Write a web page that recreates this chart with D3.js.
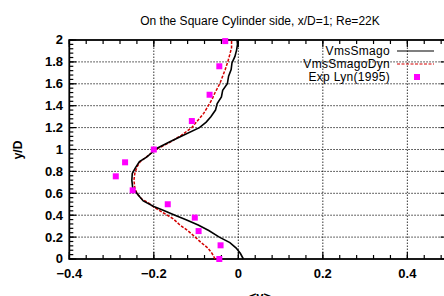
<!DOCTYPE html>
<html>
<head>
<meta charset="utf-8">
<script src="https://cdn.jsdelivr.net/npm/d3@7"></script>
<style>
  body { margin: 0; background: #fff; }
  svg { display: block; font-family: "Liberation Sans", Arial, sans-serif; }
</style>
</head>
<body>
<div id="chart"></div>
<script>
// data: [v, y/D]
const smago = [
  [0.012, 0.0], [0.005, 0.05], [-0.005, 0.1], [-0.02, 0.15], [-0.045, 0.2],
  [-0.07, 0.26], [-0.095, 0.31], [-0.125, 0.36], [-0.15, 0.40], [-0.175, 0.44],
  [-0.2, 0.48], [-0.225, 0.53], [-0.237, 0.585], [-0.25, 0.65], [-0.252, 0.72],
  [-0.251, 0.78], [-0.244, 0.83], [-0.234, 0.89], [-0.217, 0.93], [-0.205, 0.97],
  [-0.198, 1.0], [-0.162, 1.07], [-0.13, 1.13], [-0.092, 1.2], [-0.076, 1.25],
  [-0.065, 1.3], [-0.054, 1.36], [-0.05, 1.42], [-0.04, 1.48], [-0.037, 1.54],
  [-0.026, 1.6], [-0.023, 1.67], [-0.017, 1.73], [-0.015, 1.79], [-0.008, 1.85],
  [-0.004, 1.91], [-0.002, 1.96], [-0.003, 2.0]
];
const smagoDyn = [
  [-0.055, 0.0], [-0.062, 0.05], [-0.072, 0.1], [-0.088, 0.15], [-0.102, 0.2],
  [-0.12, 0.26], [-0.138, 0.31], [-0.155, 0.37], [-0.177, 0.42], [-0.198, 0.47],
  [-0.212, 0.51], [-0.229, 0.55], [-0.24, 0.6], [-0.245, 0.65], [-0.247, 0.72],
  [-0.245, 0.78], [-0.24, 0.84], [-0.232, 0.89], [-0.218, 0.93], [-0.205, 0.97],
  [-0.195, 1.0], [-0.16, 1.07], [-0.135, 1.13], [-0.11, 1.2], [-0.095, 1.27],
  [-0.082, 1.33], [-0.071, 1.4], [-0.062, 1.46], [-0.055, 1.52], [-0.044, 1.6],
  [-0.037, 1.67], [-0.031, 1.73], [-0.025, 1.8], [-0.02, 1.87], [-0.016, 1.93],
  [-0.016, 2.0]
];
const expLyn = [
  [-0.045, 0.0], [-0.042, 0.125], [-0.094, 0.255], [-0.103, 0.378], [-0.167, 0.5],
  [-0.25, 0.627], [-0.29, 0.755], [-0.268, 0.883], [-0.2, 1.0], [-0.11, 1.26],
  [-0.068, 1.5], [-0.045, 1.76], [-0.031, 1.99]
];
const xTicks = [-0.4, -0.2, 0, 0.2, 0.4];
const yTicks = [0, 0.2, 0.4, 0.6, 0.8, 1, 1.2, 1.4, 1.6, 1.8, 2];
const legendItems = ["VmsSmago", "VmsSmagoDyn", "Exp Lyn(1995)"];

const width = 444, height = 296;

const x = d3.scaleLinear().domain([-0.4, 0.5]).range([69.3, 449.6]);
const y = d3.scaleLinear().domain([0, 2]).range([259, 40]);

const svg = d3.select("#chart").append("svg")
  .attr("width", width).attr("height", height);

// title
svg.append("text")
  .attr("x", 260).attr("y", 25)
  .attr("text-anchor", "middle")
  .attr("font-size", 12)
  .text("On the Square Cylinder side, x/D=1; Re=22K");

// grid (dotted)
const grid = svg.append("g").attr("stroke", "#000").attr("stroke-width", 0.8)
  .attr("stroke-dasharray", "1.5,1.5");
grid.selectAll(".gx").data(xTicks.filter(d => d > -0.4)).join("line")
  .attr("x1", d => x(d)).attr("x2", d => x(d))
  .attr("y1", y(0)).attr("y2", y(2));
grid.selectAll(".gy").data(yTicks.filter(d => d > 0 && d < 2)).join("line")
  .attr("x1", x(-0.4)).attr("x2", x(0.5))
  .attr("y1", d => y(d)).attr("y2", d => y(d));

// minor / major ticks, pointing inward
const minorX = d3.range(-0.4, 0.5001, 0.04).map(d => +d.toFixed(2));
const minorY = d3.range(0, 2.0001, 0.04).map(d => +d.toFixed(2));
const ticks = svg.append("g").attr("stroke", "#000").attr("stroke-width", 1.2);
ticks.selectAll(".mxb").data(minorX).join("line")
  .attr("x1", d => x(d)).attr("x2", d => x(d))
  .attr("y1", y(0)).attr("y2", y(0) - 4);
ticks.selectAll(".mxt").data(minorX).join("line")
  .attr("x1", d => x(d)).attr("x2", d => x(d))
  .attr("y1", y(2)).attr("y2", y(2) + 4);
ticks.selectAll(".Mxb").data(xTicks).join("line")
  .attr("x1", d => x(d)).attr("x2", d => x(d))
  .attr("y1", y(0)).attr("y2", y(0) - 7);
ticks.selectAll(".Mxt").data(xTicks).join("line")
  .attr("x1", d => x(d)).attr("x2", d => x(d))
  .attr("y1", y(2)).attr("y2", y(2) + 7);
ticks.selectAll(".myl").data(minorY).join("line")
  .attr("x1", x(-0.4)).attr("x2", x(-0.4) + 4)
  .attr("y1", d => y(d)).attr("y2", d => y(d));
ticks.selectAll(".myr").data(minorY).join("line")
  .attr("x1", x(0.5)).attr("x2", x(0.5) - 4)
  .attr("y1", d => y(d)).attr("y2", d => y(d));
ticks.selectAll(".Myl").data(yTicks).join("line")
  .attr("x1", x(-0.4)).attr("x2", x(-0.4) + 7)
  .attr("y1", d => y(d)).attr("y2", d => y(d));
ticks.selectAll(".Myr").data(yTicks).join("line")
  .attr("x1", x(0.5)).attr("x2", x(0.5) - 9)
  .attr("y1", d => y(d)).attr("y2", d => y(d));

// frame
svg.append("rect")
  .attr("x", x(-0.4)).attr("y", y(2))
  .attr("width", x(0.5) - x(-0.4)).attr("height", y(0) - y(2))
  .attr("fill", "none").attr("stroke", "#000").attr("stroke-width", 1.8);

// tick labels
svg.append("g").selectAll("text").data(xTicks).join("text")
  .attr("x", d => x(d)).attr("y", 278)
  .attr("text-anchor", "middle")
  .attr("font-size", 13).attr("font-weight", "bold")
  .text(d => d3.format("")(d));
svg.append("g").selectAll("text").data(yTicks).join("text")
  .attr("x", 63).attr("y", d => y(d))
  .attr("dy", "0.34em")
  .attr("text-anchor", "end")
  .attr("font-size", 13).attr("font-weight", "bold")
  .text(d => d3.format("")(d));

// axis titles
svg.append("text")
  .attr("transform", "translate(22,150) rotate(-90)")
  .attr("text-anchor", "middle")
  .attr("font-size", 12).attr("font-weight", "bold")
  .text("y/D");
svg.append("text")
  .attr("x", 260).attr("y", 301)
  .attr("text-anchor", "middle")
  .attr("font-size", 13).attr("font-weight", "bold")
  .text("<v>");

// curves
const line = d3.line().x(d => x(d[0])).y(d => y(d[1]));
svg.append("path").datum(smagoDyn)
  .attr("d", line).attr("fill", "none")
  .attr("stroke", "#d40000").attr("stroke-width", 1.5)
  .attr("stroke-dasharray", "3,1.5");
svg.append("path").datum(smago)
  .attr("d", line).attr("fill", "none")
  .attr("stroke", "#000").attr("stroke-width", 1.6);

// experimental points
svg.append("g").selectAll("rect").data(expLyn).join("rect")
  .attr("x", d => x(d[0]) - 3).attr("y", d => y(d[1]) - 3)
  .attr("width", 6).attr("height", 6)
  .attr("fill", "#ff00ff");

// legend
const legRows = [51, 64, 77];
const leg = svg.append("g");
leg.selectAll("text").data(legendItems).join("text")
  .attr("x", 390).attr("y", (d, i) => legRows[i])
  .attr("dy", "0.34em")
  .attr("text-anchor", "end")
  .attr("font-size", 12).attr("letter-spacing", 0.3)
  .text(d => d);
leg.append("line")
  .attr("x1", 397).attr("x2", 434).attr("y1", legRows[0]).attr("y2", legRows[0])
  .attr("stroke", "#000").attr("stroke-width", 1.2);
leg.append("line")
  .attr("x1", 397).attr("x2", 434).attr("y1", legRows[1]).attr("y2", legRows[1])
  .attr("stroke", "#d40000").attr("stroke-width", 1.2)
  .attr("stroke-dasharray", "3,1.5");
leg.append("rect")
  .attr("x", 414).attr("y", legRows[2] - 3)
  .attr("width", 6).attr("height", 6)
  .attr("fill", "#ff00ff");
</script>
</body>
</html>
